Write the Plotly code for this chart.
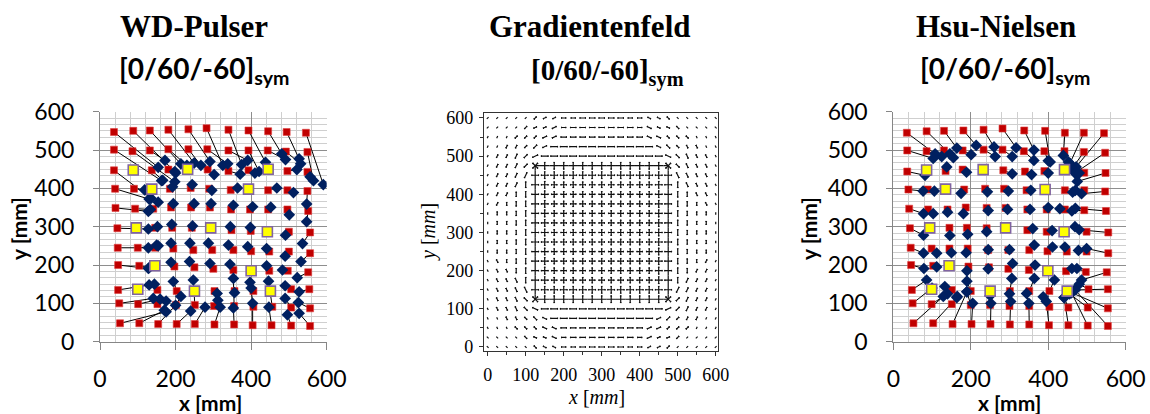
import math
import plotly.graph_objects as go

# ----------------------------------------------------------------- data
# WD-Pulser: true grid positions (red) and located positions (blue), per row
WD_RED_X = [
    [37, 88, 132, 181, 234, 282, 340, 393, 445, 494, 545],
    [37, 86, 132, 181, 234, 284, 340, 393, 444, 492, 549],
    [37, 137, 181, 285, 340, 393, 496, 549],
    [40, 90, 185, 240, 289, 346, 445, 496, 549],
    [41, 93, 141, 188, 241, 291, 347, 397, 445, 496, 551],
    [46, 146, 191, 243, 348, 399, 500, 556],
    [47, 100, 146, 194, 247, 297, 353, 400, 448, 500, 556],
    [48, 104, 197, 250, 300, 353, 448, 497, 551],
    [48, 152, 203, 303, 356, 406, 506, 554],
    [51, 101, 152, 201, 251, 302, 355, 406, 456, 506, 556],
    [53, 104, 154, 203, 251, 303, 355, 404, 454, 506, 556],
]
WD_RED_Y = [
    [547, 550, 551, 553, 554, 557, 553, 551, 549, 547, 545],
    [501, 497, 499, 502, 502, 502, 499, 499, 499, 496, 495],
    [447, 447, 449, 449, 445, 447, 445, 443],
    [399, 399, 399, 401, 399, 396, 395, 395, 393],
    [349, 347, 347, 350, 350, 350, 345, 345, 345, 345, 341],
    [296, 297, 297, 297, 291, 289, 287, 285],
    [245, 245, 245, 243, 239, 239, 239, 236, 235, 235, 231],
    [200, 198, 196, 194, 190, 187, 185, 185, 181],
    [135, 135, 132, 132, 132, 132, 137, 137],
    [100, 98, 98, 96, 96, 93, 93, 91, 91, 89, 87],
    [48, 48, 46, 46, 46, 45, 45, 43, 43, 42, 41],
]
WD_BLUE_X = [
    [154, 198, 214, 249, 291, 325, 375, 438, 481, 527, 591],
    [163, 198, 172, 230, 267, 338, 391, 421, 491, 531, 565],
    [135, 166, 200, 302, 371, 410, 521, 556],
    [130, 118, 192, 244, 296, 364, 468, 512, 547],
    [128, 133, 154, 194, 249, 294, 353, 404, 452, 501, 547],
    [128, 152, 190, 245, 345, 398, 491, 536],
    [128, 154, 150, 188, 238, 287, 340, 391, 441, 490, 532],
    [128, 130, 188, 237, 291, 344, 441, 483, 522],
    [130, 144, 194, 310, 356, 400, 490, 527],
    [141, 159, 175, 214, 247, 312, 353, 397, 446, 490, 525],
    [175, 170, 200, 240, 278, 318, 353, 404, 447, 496, 527],
]
WD_BLUE_Y = [
    [455, 444, 464, 466, 470, 460, 462, 468, 490, 477, 410],
    [420, 417, 473, 460, 460, 464, 473, 444, 475, 464, 420],
    [374, 421, 440, 436, 437, 440, 449, 430],
    [372, 396, 404, 410, 395, 401, 401, 389, 359],
    [340, 345, 364, 360, 360, 360, 356, 352, 351, 331, 313],
    [294, 300, 306, 302, 300, 298, 278, 256],
    [245, 250, 252, 257, 257, 257, 252, 248, 243, 223, 209],
    [191, 193, 207, 209, 204, 202, 198, 187, 167],
    [148, 150, 157, 126, 128, 140, 146, 130],
    [113, 111, 106, 118, 161, 108, 165, 155, 158, 113, 102],
    [78, 82, 95, 80, 90, 90, 88, 100, 90, 70, 74],
]
WD_SENSOR_X = [88, 232, 445, 137, 393, 96, 293, 443, 145, 400, 100, 250, 451]
WD_SENSOR_Y = [448, 450, 450, 398, 398, 297, 297, 287, 198, 185, 137, 132, 132]

# Hsu-Nielsen
HN_RED_X = [
    [35, 86, 131, 181, 233, 282, 338, 392, 443, 492, 544],
    [36, 86, 131, 179, 233, 282, 337, 390, 442, 492, 547],
    [36, 135, 179, 284, 340, 390, 493, 548],
    [39, 89, 183, 237, 286, 344, 443, 493, 547],
    [41, 90, 140, 187, 241, 290, 346, 396, 443, 493, 549],
    [43, 145, 190, 241, 346, 396, 499, 555],
    [45, 99, 145, 192, 245, 297, 351, 398, 448, 499, 555],
    [46, 103, 194, 247, 297, 350, 446, 497, 551],
    [48, 151, 200, 301, 351, 403, 504, 554],
    [50, 99, 151, 200, 250, 300, 351, 403, 452, 502, 554],
    [52, 103, 153, 202, 251, 301, 351, 402, 452, 502, 554],
]
HN_RED_Y = [
    [545, 549, 550, 551, 553, 556, 551, 550, 545, 545, 544],
    [499, 497, 499, 499, 501, 501, 497, 497, 497, 495, 493],
    [444, 445, 449, 447, 444, 445, 441, 440],
    [397, 397, 397, 399, 399, 395, 395, 395, 392],
    [347, 345, 345, 350, 349, 349, 345, 345, 345, 343, 341],
    [296, 297, 297, 296, 291, 287, 287, 285],
    [245, 243, 243, 243, 239, 239, 239, 236, 235, 235, 231],
    [200, 198, 196, 194, 190, 187, 184, 182, 181],
    [135, 135, 132, 132, 132, 132, 137, 137],
    [100, 98, 98, 96, 96, 93, 93, 91, 89, 89, 87],
    [48, 48, 46, 46, 46, 45, 45, 43, 43, 42, 41],
]
HN_BLUE_X = [
    [108, 146, 164, 214, 260, 317, 363, 405, 439, 456, 472],
    [103, 125, 155, 201, 263, 307, 363, 400, 452, 462, 469],
    [82, 138, 189, 307, 357, 400, 480, 475],
    [77, 106, 175, 243, 297, 355, 463, 470, 486],
    [78, 103, 140, 181, 245, 295, 353, 400, 430, 461, 470],
    [78, 146, 192, 241, 360, 410, 469, 480],
    [78, 112, 150, 188, 245, 300, 364, 411, 443, 478, 499],
    [79, 112, 190, 245, 308, 366, 461, 474, 486],
    [86, 133, 190, 306, 364, 416, 480, 469],
    [100, 140, 165, 190, 250, 300, 344, 387, 441, 455, 460],
    [129, 164, 190, 205, 252, 303, 350, 395, 441, 460, 469],
]
HN_BLUE_Y = [
    [490, 490, 505, 512, 508, 506, 500, 469, 486, 465, 456],
    [478, 483, 480, 488, 483, 483, 473, 472, 469, 452, 440],
    [434, 456, 442, 438, 436, 440, 440, 418],
    [393, 393, 387, 391, 393, 395, 390, 395, 386],
    [334, 334, 338, 334, 342, 345, 345, 350, 347, 341, 348],
    [278, 277, 280, 287, 295, 290, 300, 292],
    [231, 231, 232, 232, 240, 240, 252, 247, 247, 238, 243],
    [191, 195, 185, 190, 204, 200, 191, 191, 161],
    [161, 144, 158, 165, 165, 161, 150, 135],
    [140, 125, 118, 130, 120, 125, 126, 117, 115, 125, 128],
    [118, 115, 130, 100, 100, 105, 100, 105, 115, 128, 135],
]
HN_SENSOR_X = [86, 232, 442, 135, 392, 94, 290, 441, 144, 399, 99, 250, 449]
HN_SENSOR_Y = [448, 449, 449, 398, 397, 297, 297, 287, 198, 185, 137, 132, 132]

# Gradientenfeld: grid of glyphs (rows from y=600 down to y=0)
FIELD_X = [0, 25, 50, 75, 100, 125, 150, 175, 200, 225, 250, 275, 300,
           325, 350, 375, 400, 425, 450, 475, 500, 525, 550, 575, 600]
FIELD_Y = [600, 575, 550, 525, 500, 475, 450, 425, 400, 375, 350, 325, 300,
           275, 250, 225, 200, 175, 150, 125, 100, 75, 50, 25, 0]
# h=0deg a=25 p=45 b=65 v=90 c=115 q=135 d=155, + cross, x diagonal cross,
# T horizontal edge, E vertical edge
FIELD_DIR = [
    "pppppp" "aa" "hhhhhhhhh" "dd" "qqqqqq",
    "ppppp" "aaa" "hhhhhhhhh" "ddd" "qqqqq",
    "bbb" "ppp" "aa" "hhhhhhhhh" "dd" "qqq" "ccc",
    "bbbb" "pp" "a" "hhhhhhhhhhh" "d" "qq" "cccc",
    "bbbb" "p" "a" "hhhhhhhhhhhhh" "d" "q" "cccc",
    "bbbb" "p" "x" "TTTTTTTTTTTTT" "x" "q" "cccc",
    "bbbbb" "E" "+++++++++++++" "E" "ccccc",
    "bbbbv" "E" "+++++++++++++" "E" "vcccc",
    "bbbvv" "E" "+++++++++++++" "E" "vvccc",
    "bbvvv" "E" "+++++++++++++" "E" "vvvcc",
    "vvvvv" "E" "+++++++++++++" "E" "vvvvv",
    "vvvvv" "E" "+++++++++++++" "E" "vvvvv",
    "vvvvv" "E" "+++++++++++++" "E" "vvvvv",
    "vvvvv" "E" "+++++++++++++" "E" "vvvvv",
    "vvvvv" "E" "+++++++++++++" "E" "vvvvv",
    "ccvvv" "E" "+++++++++++++" "E" "vvvbb",
    "cccvv" "E" "+++++++++++++" "E" "vvbbb",
    "ccccv" "E" "+++++++++++++" "E" "vbbbb",
    "ccccc" "E" "+++++++++++++" "E" "bbbbb",
    "cccc" "q" "x" "TTTTTTTTTTTTT" "x" "p" "bbbb",
    "cccc" "q" "d" "hhhhhhhhhhhhh" "a" "p" "bbbb",
    "cccc" "qq" "d" "hhhhhhhhhhh" "a" "pp" "bbbb",
    "ccc" "qqq" "dd" "hhhhhhhhh" "aa" "ppp" "bbb",
    "qqqqq" "ddd" "hhhhhhhhh" "aaa" "ppppp",
    "qqqqqq" "dd" "hhhhhhhhh" "aa" "pppppp",
]
# glyph magnitude class per grid point
FIELD_MAG = [
    "22222" "333" "44" "55555" "44" "333" "22222",
    "2222" "333" "44" "5555555" "44" "333" "2222",
    "222" "333" "44" "555555555" "44" "333" "222",
    "22" "333" "44" "66666666666" "44" "333" "22",
    "2" "33" "44" "5" "6666666666666" "5" "44" "33" "2",
    "2" "33" "44" "6" "6666666666666" "6" "44" "33" "2",
    "23345" "6" "6666666666666" "6" "54332",
    "23345" "6" "6555555555556" "6" "54332",
    "23345" "6" "6555555555556" "6" "54332",
    "23345" "6" "6555555555556" "6" "54332",
    "23345" "6" "6555555555556" "6" "54332",
    "23345" "6" "6555555555556" "6" "54332",
    "23345" "6" "6555555555556" "6" "54332",
    "23345" "6" "6555555555556" "6" "54332",
    "23345" "6" "6555555555556" "6" "54332",
    "23345" "6" "6555555555556" "6" "54332",
    "23345" "6" "6555555555556" "6" "54332",
    "23345" "6" "6555555555556" "6" "54332",
    "23345" "6" "6666666666666" "6" "54332",
    "2" "33" "44" "6" "6666666666666" "6" "44" "33" "2",
    "2" "33" "44" "5" "6666666666666" "5" "44" "33" "2",
    "22" "333" "44" "66666666666" "44" "333" "22",
    "222" "333" "44" "555555555" "44" "333" "222",
    "2222" "333" "44" "5555555" "44" "333" "2222",
    "22222" "333" "44" "55555" "44" "333" "22222",
]
ANGLE_OF = {"h": 0, "a": 25, "p": 45, "b": 65, "v": 90, "c": 115, "q": 135, "d": 155}

TICKS_600 = [0, 200, 400, 600]
TICKS_Y = [0, 100, 200, 300, 400, 500, 600]
TICKS_MID = [0, 100, 200, 300, 400, 500, 600]

# ----------------------------------------------------------------- styling
W, H = 1150, 414
RED = "#c00000"
NAVY = "#002060"
CAL = "Lato"
SERIF = "Liberation Serif"
MAG_UNIT = 3.3
HEAD = 2.6


def fx(p):
    return p / W


def fy(p):
    return 1 - p / H


fig = go.Figure()


def add_locator(xa, ya, rx, ry, bx, by, sx, sy):
    lx, ly = [], []
    frx, fry, fbx, fby = [], [], [], []
    for r_x, r_y, b_x, b_y in zip(rx, ry, bx, by):
        for a, b, c, d in zip(r_x, r_y, b_x, b_y):
            lx += [a, c, None]
            ly += [b, d, None]
            frx.append(a); fry.append(b); fbx.append(c); fby.append(d)
    fig.add_trace(go.Scatter(x=lx, y=ly, mode="lines", xaxis=xa, yaxis=ya,
                             line=dict(color="black", width=1), hoverinfo="skip",
                             showlegend=False))
    fig.add_trace(go.Scatter(x=frx, y=fry, mode="markers", xaxis=xa, yaxis=ya,
                             marker=dict(symbol="square", size=7, color=RED,
                                         line=dict(width=0.6, color="#e04040")),
                             showlegend=False))
    fig.add_trace(go.Scatter(x=fbx, y=fby, mode="markers", xaxis=xa, yaxis=ya,
                             marker=dict(symbol="diamond", size=9, color=NAVY,
                                         line=dict(width=0)),
                             showlegend=False))
    fig.add_trace(go.Scatter(x=sx, y=sy, mode="markers", xaxis=xa, yaxis=ya,
                             marker=dict(symbol="square", size=10, color="#ffff00",
                                         line=dict(width=1.6, color="#8064a2")),
                             showlegend=False))


add_locator("x", "y", WD_RED_X, WD_RED_Y, WD_BLUE_X, WD_BLUE_Y, WD_SENSOR_X, WD_SENSOR_Y)
add_locator("x3", "y3", HN_RED_X, HN_RED_Y, HN_BLUE_X, HN_BLUE_Y, HN_SENSOR_X, HN_SENSOR_Y)

# gradient field glyphs (double-headed strokes)
half_step = (FIELD_X[1] - FIELD_X[0]) / 2
seg_x, seg_y = [], []


def seg(x0, y0, x1, y1):
    seg_x.extend([x0, x1, None])
    seg_y.extend([y0, y1, None])


def arrow(x, y, t, h):
    c, s = math.cos(t), math.sin(t)
    seg(x - h * c, y - h * s, x + h * c, y + h * s)
    for sign in (1, -1):
        ex, ey = x + sign * h * c, y + sign * h * s
        for da in (0.45, -0.45):
            a = t + da
            seg(ex, ey, ex - sign * HEAD * math.cos(a), ey - sign * HEAD * math.sin(a))


nrow = len(FIELD_DIR)
for i, (drow, mrow) in enumerate(zip(FIELD_DIR, FIELD_MAG)):
    y = FIELD_Y[i]
    for j, (ch, m) in enumerate(zip(drow, mrow)):
        x = FIELD_X[j]
        h = int(m) * MAG_UNIT / 2
        if ch in ANGLE_OF:
            if int(m) >= 3:
                arrow(x, y, math.radians(ANGLE_OF[ch]), h)
            else:
                t = math.radians(ANGLE_OF[ch])
                seg(x - h * math.cos(t), y - h * math.sin(t), x + h * math.cos(t), y + h * math.sin(t))
        elif ch == "+":
            arrow(x, y, 0, h)
            arrow(x, y, math.pi / 2, h)
        elif ch == "T":
            seg(x - half_step, y, x + half_step, y)
            arrow(x, y, math.pi / 2, h)
        elif ch == "E":
            seg(x, y - half_step, x, y + half_step)
            arrow(x, y, 0, h)
        elif ch == "x":
            arrow(x, y, math.pi / 4, h)
            arrow(x, y, 3 * math.pi / 4, h)
            if j + 1 < len(drow) and drow[j + 1] == "T":
                seg(x, y, x + half_step, y)
            if j - 1 >= 0 and drow[j - 1] == "T":
                seg(x - half_step, y, x, y)
            if i + 1 < nrow and FIELD_DIR[i + 1][j] == "E":
                seg(x, y, x, y - half_step)
            if i - 1 >= 0 and FIELD_DIR[i - 1][j] == "E":
                seg(x, y, x, y + half_step)

fig.add_trace(go.Scatter(x=seg_x, y=seg_y, mode="lines", xaxis="x2", yaxis="y2",
                         line=dict(color="#111111", width=1.2), hoverinfo="skip",
                         showlegend=False))

# ----------------------------------------------------------------- axes


def excel_x(domain, anchor):
    return dict(domain=domain, anchor=anchor, range=[0, 600], tickvals=TICKS_600,
                showgrid=True, gridcolor="#8e8e8e", gridwidth=1,
                minor=dict(dtick=40, tick0=0, showgrid=True, gridcolor="#cfcfcf", gridwidth=1),
                showline=True, linecolor="#868686", linewidth=1,
                ticks="outside", ticklen=7, tickcolor="#868686",
                tickfont=dict(family=CAL, size=23, color="black"),
                ticklabelstandoff=10, zeroline=False, fixedrange=True, automargin=False)


def excel_y(domain, anchor):
    return dict(domain=domain, anchor=anchor, range=[0, 600], tickvals=TICKS_Y,
                showgrid=True, gridcolor="#8e8e8e", gridwidth=1,
                minor=dict(dtick=100 / 6, tick0=0, showgrid=True, gridcolor="#cfcfcf", gridwidth=1),
                showline=True, linecolor="#868686", linewidth=1,
                ticks="outside", ticklen=6, tickcolor="#868686",
                tickfont=dict(family=CAL, size=23, color="black"),
                ticklabelstandoff=14, zeroline=False, fixedrange=True, automargin=False)


ydom_excel = [fy(341.7), fy(111.7)]
fig.update_layout(
    template="none",
    width=W, height=H, margin=dict(l=0, r=0, t=0, b=0, pad=0, autoexpand=False),
    paper_bgcolor="white", plot_bgcolor="white", showlegend=False,
    xaxis=excel_x([fx(100), fx(326.7)], "y"),
    yaxis=excel_y(ydom_excel, "x"),
    xaxis3=excel_x([fx(893.3), fx(1125.7)], "y3"),
    yaxis3=excel_y(ydom_excel, "x3"),
    xaxis2=dict(domain=[fx(483.9), fx(718.0)], anchor="y2", range=[-10, 606],
                tickvals=TICKS_MID, showgrid=False, zeroline=False,
                showline=True, linecolor="#333333", linewidth=1, mirror=True,
                ticks="outside", ticklen=4, tickcolor="#333333",
                minor=dict(dtick=50, tick0=0, ticks="outside", ticklen=3, tickcolor="#333333"),
                tickfont=dict(family=SERIF, size=18, color="black"),
                ticklabelstandoff=4, fixedrange=True, automargin=False),
    yaxis2=dict(domain=[fy(350.8), fy(113.4)], anchor="x2", range=[-10, 612],
                tickvals=TICKS_MID, showgrid=False, zeroline=False,
                showline=True, linecolor="#333333", linewidth=1, mirror=True,
                ticks="outside", ticklen=4, tickcolor="#333333",
                minor=dict(dtick=50, tick0=0, ticks="outside", ticklen=3, tickcolor="#333333"),
                tickfont=dict(family=SERIF, size=18, color="black"),
                ticklabelstandoff=2, fixedrange=True, automargin=False),
)

ann = []


def text(x, y, s, font, angle=0, xanchor="center", yanchor="middle"):
    ann.append(dict(x=fx(x), y=fy(y), xref="paper", yref="paper", text=s,
                    showarrow=False, font=font, textangle=angle,
                    xanchor=xanchor, yanchor=yanchor))


title_font = dict(family=SERIF, size=31, color="black")
text(194, 27, "<b>WD-Pulser</b>", title_font)
text(590, 27, "<b>Gradientenfeld</b>", title_font)
text(996, 27, "<b>Hsu-Nielsen</b>", title_font)

sub_cal = dict(family=CAL, size=28, color="black")
text(204, 70, "<b>[0/60/-60]<sub>sym</sub></b>", sub_cal)
text(1005, 70, "<b>[0/60/-60]<sub>sym</sub></b>", sub_cal)
text(607, 72, "<b>[0/60/-60]<sub>sym</sub></b>", dict(family=SERIF, size=29, color="black"))

lab_cal = dict(family=CAL, size=21, color="black")
text(210, 402, "<b>x [mm]</b>", lab_cal)
text(1009, 402, "<b>x [mm]</b>", lab_cal)
text(18, 229, "<b>y [mm]</b>", lab_cal, angle=-90)
text(808, 229, "<b>y [mm]</b>", lab_cal, angle=-90)

lab_serif = dict(family=SERIF, size=20, color="black")
text(596, 397, "<i>x</i> [<i>mm</i>]", lab_serif)
text(428, 232, "<i>y</i> [<i>mm</i>]", lab_serif, angle=-90)

fig.update_layout(annotations=ann)
fig.write_html(
    "out.html",
    config={"displayModeBar": False, "staticPlot": True},
    post_script="document.body.style.margin='0';document.body.style.overflow='hidden';",
)
